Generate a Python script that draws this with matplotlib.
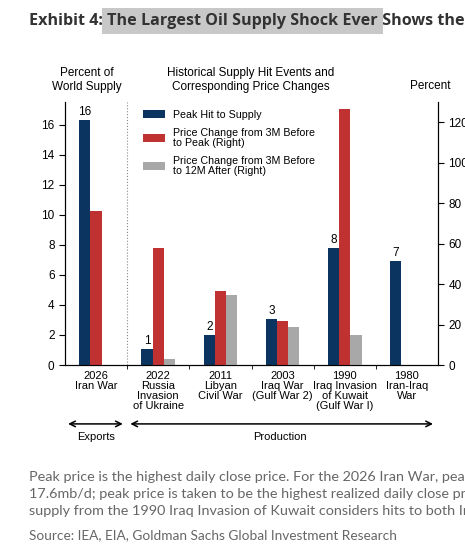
import numpy as np
import matplotlib.pyplot as plt

plt.rcParams['font.family'] = ['Liberation Sans', 'DejaVu Sans']

# datos
eventos = ['2026\nIran War', '2022\nRussia\nInvasion\nof Ukraine', '2011\nLibyan\nCivil War',
           '2003\nIraq War\n(Gulf War 2)', '1990\nIraq Invasion\nof Kuwait\n(Gulf War I)',
           '1980\nIran-Iraq\nWar']
golpe_oferta = [16.3, 1.05, 1.98, 3.07, 7.78, 6.95]
etiquetas_golpe = ['16', '1', '2', '3', '8', '7']
precio_al_pico = [76, 58, 36.7, 21.7, 126.4, np.nan]
precio_12m_despues = [np.nan, 3, 34.7, 18.9, 14.7, np.nan]

azul = '#0b3560'
rojo = '#c03232'
gris = '#a8a8a8'

fig = plt.figure(figsize=(4.65, 5.57), dpi=100)
ax = fig.add_axes([65 / 465, 192 / 557, 373 / 465, 263 / 557])
ax2 = ax.twinx()

x = np.arange(len(eventos))
w = 0.18
b1 = ax.bar(x - w, golpe_oferta, w, color=azul, label='Peak Hit to Supply')
b2 = ax2.bar(x, precio_al_pico, w, color=rojo, label='Price Change from 3M Before\nto Peak (Right)')
b3 = ax2.bar(x + w, precio_12m_despues, w, color=gris,
             label='Price Change from 3M Before\nto 12M After (Right)')

for xi, v, t in zip(x, golpe_oferta, etiquetas_golpe):
    ax.text(xi - w, v + 0.12, t, ha='center', va='bottom', fontsize=8.5)

ax.set_xlim(-0.5, 5.5)
ax.set_ylim(0, 17.5)
ax2.set_ylim(0, 130)
ax.set_yticks(range(0, 17, 2))
ax2.set_yticks(range(0, 121, 20))
ax.set_xticks(x)
ax.set_xticklabels(eventos, fontsize=8, linespacing=1.0)
ax.set_xticks(np.arange(0.5, 5, 1), minor=True)
ax.tick_params(axis='x', which='major', length=0, pad=4)
ax.tick_params(axis='x', which='minor', length=3, direction='out')
ax.tick_params(axis='y', labelsize=8.5, length=4, direction='out')
ax2.tick_params(axis='y', labelsize=8.5, length=4, direction='out')

for a in (ax, ax2):
    a.spines['top'].set_visible(False)

ax.axvline(0.5, color='#888888', ls=':', lw=0.8)

leg = fig.legend(handles=[b1, b2, b3], loc='upper left', bbox_to_anchor=(143 / 465, 1 - 110 / 557),
                 frameon=False, fontsize=7.7, handlelength=2.1, handleheight=0.75,
                 handletextpad=0.75, labelspacing=0.75, borderpad=0, borderaxespad=0)
for t in leg.get_texts():
    t.set_linespacing(1.0)

# encabezados
fig.text(87 / 465, 1 - 80 / 557, 'Percent of\nWorld Supply', ha='center', va='center', fontsize=8.5)
fig.text(251 / 465, 1 - 80 / 557, 'Historical Supply Hit Events and\nCorresponding Price Changes',
         ha='center', va='center', fontsize=8.5)
fig.text(430 / 465, 1 - 86 / 557, 'Percent', ha='center', va='center', fontsize=8.5)

# flechas
flecha = dict(arrowstyle='<->', color='black', lw=1.1, shrinkA=0, shrinkB=0)
ax.annotate('', xy=(-0.45, -0.224), xytext=(0.43, -0.224), xycoords=('data', 'axes fraction'),
            textcoords=('data', 'axes fraction'), arrowprops=flecha, annotation_clip=False)
ax.annotate('', xy=(0.55, -0.224), xytext=(5.42, -0.224), xycoords=('data', 'axes fraction'),
            textcoords=('data', 'axes fraction'), arrowprops=flecha, annotation_clip=False)
ax.text(0, -0.274, 'Exports', transform=ax.get_xaxis_transform(), ha='center', va='center', fontsize=8)
ax.text(2.96, -0.274, 'Production', transform=ax.get_xaxis_transform(), ha='center', va='center',
        fontsize=8)

# título con resaltado
tam = 11.6
t1 = fig.text(29 / 465, 1 - 21 / 557, 'Exhibit 4: ', fontsize=tam, fontweight='bold',
              color='#333333', family='Open Sans', va='center')
t2 = fig.text(0, 0, 'The Largest Oil Supply Shock Ever', fontsize=tam, fontweight='bold',
              color='#333333', family='Open Sans', va='center')
fig.canvas.draw()
r = fig.canvas.get_renderer()
e1 = t1.get_window_extent(r)
t2.set_position((e1.x1 / 465, 1 - 21 / 557))
t2.set_bbox(dict(facecolor='#c8c8c8', edgecolor='none', pad=3.5))
e2 = t2.get_window_extent(r)
fig.text(e2.x1 / 465, 1 - 21 / 557, ' Shows the Strait of Hormuz', fontsize=tam, fontweight='bold',
         color='#333333', family='Open Sans', va='center')

# notas al pie
nota = ('Peak price is the highest daily close price. For the 2026 Iran War, peak hit to supply is\n'
        '17.6mb/d; peak price is taken to be the highest realized daily close price to date. Hit to\n'
        'supply from the 1990 Iraq Invasion of Kuwait considers hits to both Iraq and Kuwait.')
fig.text(29 / 465, 1 - 471 / 557, nota, fontsize=10.4, color='#666666', family='Lato',
         va='top', linespacing=1.48)
fig.text(29 / 465, 1 - 535 / 557, 'Source: IEA, EIA, Goldman Sachs Global Investment Research',
         fontsize=9.8, color='#666666', family='Lato', va='center')

fig.savefig('out.png', dpi=100)
plt.close(fig)
